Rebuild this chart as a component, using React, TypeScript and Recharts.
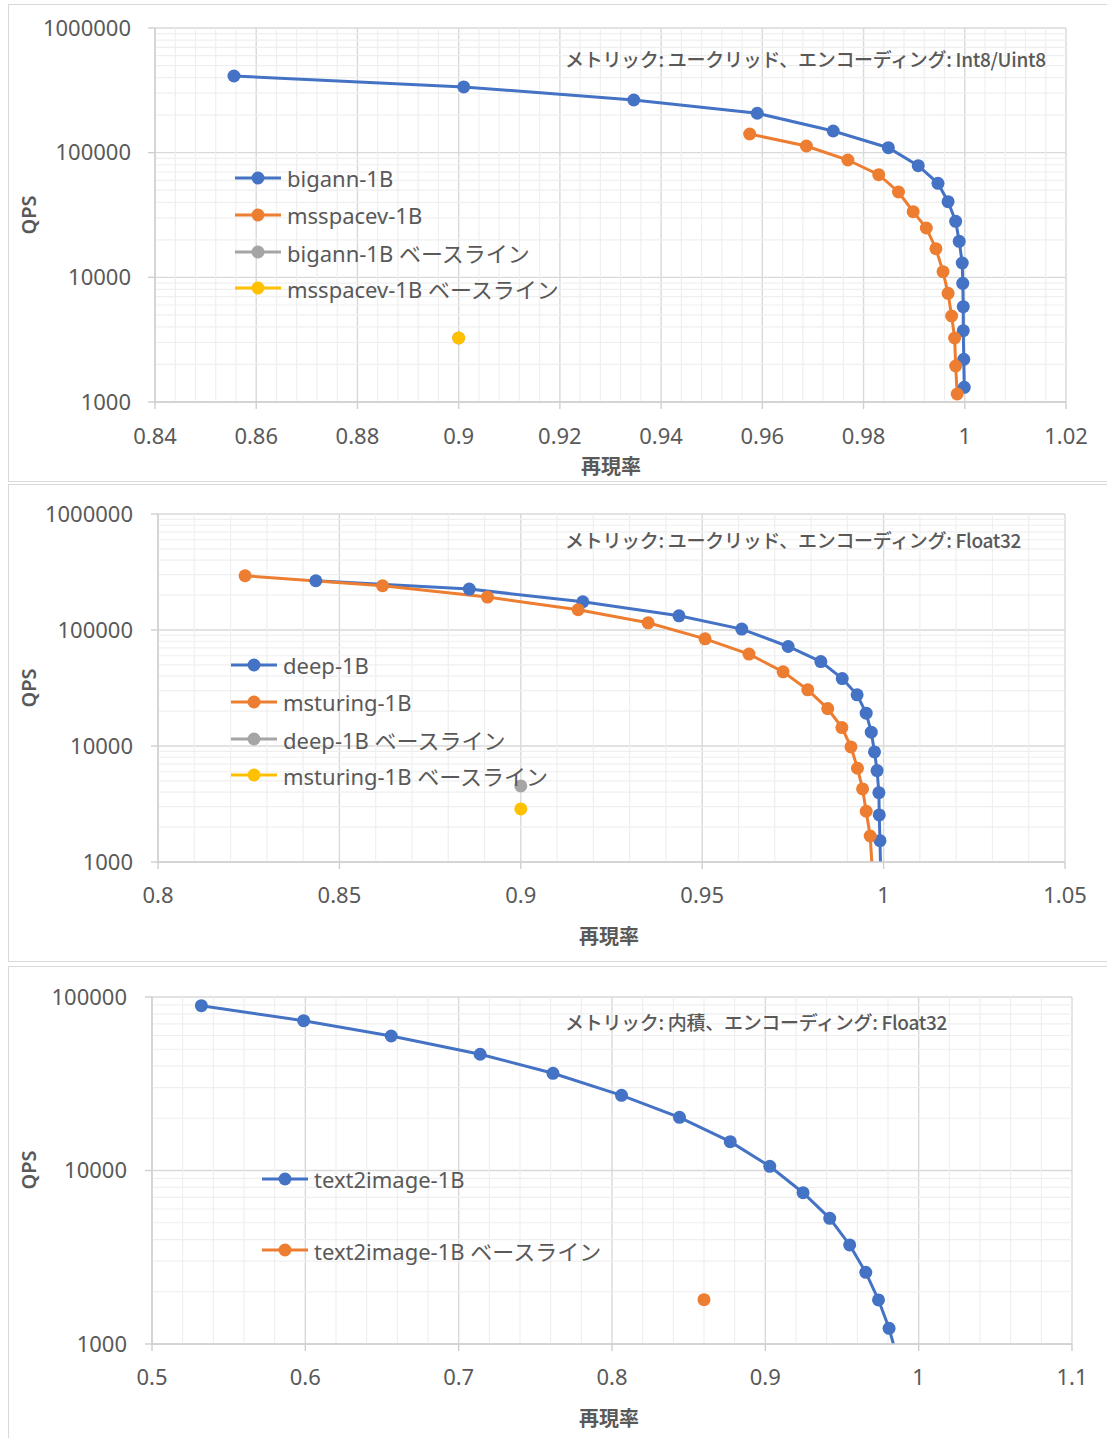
import { ComposedChart, Line, XAxis, YAxis, CartesianGrid, ReferenceLine, Legend } from 'recharts'

const BLUE = '#4472C4'
const ORANGE = '#ED7D31'
const GRAY = '#A5A5A5'
const YELLOW = '#FFC000'
const TEXT = '#595959'
const FONT = "'Noto Sans', 'Noto Sans CJK JP', sans-serif"
const JP_FONT = "'Noto Sans CJK JP', 'Noto Sans', sans-serif"

// ---- chart 1: bigann / msspacev ----
const bigannRecall = [0.8556, 0.901, 0.9346, 0.959, 0.974, 0.9849, 0.9908, 0.9947, 0.9967, 0.9982, 0.9989, 0.9995, 0.9996, 0.9997, 0.9997, 0.9998, 0.9999]
const bigannQps = [412000, 336500, 264500, 207000, 149200, 109600, 78650, 56800, 40440, 28140, 19450, 13030, 8960, 5815, 3733, 2200, 1312]
const msspacevRecall = [0.9575, 0.9687, 0.9769, 0.983, 0.9869, 0.9898, 0.9924, 0.9943, 0.9957, 0.9967, 0.9974, 0.998, 0.9982, 0.9985]
const msspacevQps = [141200, 113100, 87300, 66580, 48370, 33610, 24880, 16970, 11100, 7447, 4898, 3262, 1944, 1159]
const bigannBaseRecall = [0.9]
const bigannBaseQps = [3260]
const msspacevBaseRecall = [0.9]
const msspacevBaseQps = [3260]
const recallTicks1 = [0.84, 0.86, 0.88, 0.9, 0.92, 0.94, 0.96, 0.98, 1, 1.02]
const qpsTicks1 = [1000, 10000, 100000, 1000000]

// ---- chart 2: deep / msturing ----
const deepRecall = [0.8435, 0.8858, 0.9171, 0.9436, 0.9609, 0.9737, 0.9827, 0.9886, 0.9927, 0.9952, 0.9966, 0.9975, 0.9982, 0.9987, 0.9988, 0.999, 0.9993]
const deepQps = [265800, 225400, 175100, 132600, 101800, 72060, 53460, 38150, 27600, 19190, 13150, 8890, 6135, 3963, 2544, 1527, 600]
const msturingRecall = [0.824, 0.8619, 0.8908, 0.9158, 0.9351, 0.9508, 0.9629, 0.9723, 0.9791, 0.9846, 0.9885, 0.991, 0.9928, 0.9942, 0.9952, 0.9963, 0.9972]
const msturingQps = [293500, 240600, 192300, 149400, 115400, 83950, 61950, 43580, 30480, 21030, 14420, 9820, 6433, 4265, 2737, 1676, 600]
const deepBaseRecall = [0.9]
const deepBaseQps = [4528]
const msturingBaseRecall = [0.9]
const msturingBaseQps = [2866]
const recallTicks2 = [0.8, 0.85, 0.9, 0.95, 1, 1.05]
const qpsTicks2 = [1000, 10000, 100000, 1000000]

// ---- chart 3: text2image ----
const text2imageRecall = [0.5322, 0.5989, 0.656, 0.714, 0.7615, 0.8062, 0.844, 0.8771, 0.9029, 0.9246, 0.942, 0.955, 0.9655, 0.9738, 0.9807, 0.9857]
const text2imageQps = [89100, 73030, 59590, 46770, 36330, 27130, 20260, 14660, 10570, 7447, 5303, 3722, 2589, 1794, 1232, 850]
const text2imageBaseRecall = [0.86]
const text2imageBaseQps = [1800]
const recallTicks3 = [0.5, 0.6, 0.7, 0.8, 0.9, 1, 1.1]
const qpsTicks3 = [1000, 10000, 100000]

const pts = (xs: number[], ys: number[]) => xs.map((x, i) => ({ x, y: ys[i] }))

function minorX(ticks: number[], parts: number) {
  const out: number[] = []
  for (let i = 0; i < ticks.length - 1; i++) {
    const step = (ticks[i + 1] - ticks[i]) / parts
    for (let k = 1; k < parts; k++) out.push(+(ticks[i] + step * k).toFixed(4))
  }
  return out
}

function minorLog(ticks: number[]) {
  const out: number[] = []
  for (let i = 0; i < ticks.length - 1; i++) {
    for (let k = 2; k < 10; k++) out.push(ticks[i] * k)
  }
  return out
}

interface Series {
  name: string
  color: string
  data: { x: number; y: number }[]
}

interface ChartProps {
  top: number
  height: number
  margin: { top: number; right: number; bottom: number; left: number }
  yAxisWidth: number
  xTicks: number[]
  yTicks: number[]
  minorParts: number
  series: Series[]
  title: string
  titleY: number
  qpsY: number
  recallPos: [number, number]
  legendPos: [number, number]
  legendRowH: number
  yTickMargin: number
  xTickMargin: number
}

// legend rows keep the series order (recharts sorts its payload by name)
function LegendBox({ series, rowH }: { series: Series[]; rowH: number }) {
  return (
    <div>
      {series.map((s) => (
        <div key={s.name} style={{ display: 'flex', alignItems: 'center', height: rowH }}>
          <svg width={46} height={14} style={{ flex: 'none' }}>
            <line x1={0} y1={7} x2={46} y2={7} stroke={s.color} strokeWidth={3} />
            <circle cx={23} cy={7} r={6.5} fill={s.color} />
          </svg>
          <span style={{ marginLeft: 6, font: `22px ${FONT}`, color: TEXT, whiteSpace: 'nowrap' }}>{s.name}</span>
        </div>
      ))}
    </div>
  )
}

function RecallChart(p: ChartProps) {
  const xDomain = [p.xTicks[0], p.xTicks[p.xTicks.length - 1]]
  const yDomain = [p.yTicks[0], p.yTicks[p.yTicks.length - 1]]
  const tick = { fill: TEXT, fontSize: 22, fontFamily: FONT }
  return (
    <div style={{ position: 'absolute', left: 0, top: p.top, width: 1107, height: p.height }}>
      <ComposedChart width={1107} height={p.height} margin={p.margin}>
        {minorX(p.xTicks, p.minorParts).map((v) => (
          <ReferenceLine key={'mx' + v} x={v} stroke="#efefef" strokeWidth={1.2} />
        ))}
        {minorLog(p.yTicks).map((v) => (
          <ReferenceLine key={'my' + v} y={v} stroke="#efefef" strokeWidth={1.2} />
        ))}
        <CartesianGrid stroke="#d9d9d9" strokeWidth={1.4} />
        <XAxis
          type="number"
          dataKey="x"
          domain={xDomain}
          ticks={p.xTicks}
          interval={0}
          tick={tick}
          tickSize={7}
          tickMargin={p.xTickMargin}
          tickFormatter={(v: number) => String(parseFloat(v.toFixed(2)))}
          axisLine={{ stroke: '#cfcfcf', strokeWidth: 1.4 }}
          tickLine={{ stroke: '#cfcfcf', strokeWidth: 1.4 }}
          height={50}
        />
        <YAxis
          type="number"
          scale="log"
          domain={yDomain}
          ticks={p.yTicks}
          interval={0}
          allowDataOverflow
          tick={tick}
          tickSize={7}
          tickMargin={p.yTickMargin}
          tickFormatter={(v: number) => String(v)}
          axisLine={{ stroke: '#cfcfcf', strokeWidth: 1.4 }}
          tickLine={{ stroke: '#cfcfcf', strokeWidth: 1.4 }}
          width={p.yAxisWidth}
        />
        <Legend
          layout="vertical"
          align="center"
          verticalAlign="middle"
          wrapperStyle={{ top: p.legendPos[1], left: p.legendPos[0], width: 420, height: 'auto' }}
          content={() => <LegendBox series={p.series} rowH={p.legendRowH} />}
        />
        {p.series.map((s) => (
          <Line
            key={s.name}
            data={s.data}
            dataKey="y"
            name={s.name}
            stroke={s.color}
            strokeWidth={3}
            dot={{ r: 6.5, fill: s.color, stroke: s.color, strokeWidth: 0 }}
            activeDot={false}
            isAnimationActive={false}
          />
        ))}
      </ComposedChart>
      <div style={{ position: 'absolute', left: 565, top: p.titleY, transform: 'translateY(-50%)', font: `500 19px ${JP_FONT}`, color: TEXT, whiteSpace: 'nowrap', letterSpacing: -0.3 }}>
        {p.title}
      </div>
      <div style={{ position: 'absolute', left: 28, top: p.qpsY, transform: 'translate(-50%,-50%) rotate(-90deg)', font: `600 20px ${FONT}`, color: TEXT }}>
        QPS
      </div>
      <div style={{ position: 'absolute', left: p.recallPos[0], top: p.recallPos[1], transform: 'translate(-50%,-50%)', font: `700 20px ${JP_FONT}`, color: TEXT, whiteSpace: 'nowrap' }}>
        再現率
      </div>
    </div>
  )
}

const panel = (top: number, height: number) => ({
  position: 'absolute' as const,
  left: 8,
  top,
  width: 1110,
  height,
  border: '1.5px solid #d9d9d9',
  boxSizing: 'border-box' as const,
  background: '#fff',
})

export default function App() {
  return (
    <div style={{ position: 'relative', width: 1107, height: 1438, background: '#fff', overflow: 'hidden' }}>
      <style>{'body{margin:0;overflow:hidden}'}</style>
      <div style={panel(4, 478)} />
      <div style={panel(484, 478)} />
      <div style={panel(966, 490)} />

      <RecallChart
        top={0}
        height={480}
        margin={{ top: 28, right: 41, bottom: 28, left: 0 }}
        yAxisWidth={155}
        xTicks={recallTicks1}
        yTicks={qpsTicks1}
        minorParts={5}
        series={[
          { name: 'bigann-1B', color: BLUE, data: pts(bigannRecall, bigannQps) },
          { name: 'msspacev-1B', color: ORANGE, data: pts(msspacevRecall, msspacevQps) },
          { name: 'bigann-1B ベースライン', color: GRAY, data: pts(bigannBaseRecall, bigannBaseQps) },
          { name: 'msspacev-1B ベースライン', color: YELLOW, data: pts(msspacevBaseRecall, msspacevBaseQps) },
        ]}
        title="メトリック: ユークリッド、エンコーディング: Int8/Uint8"
        titleY={58}
        qpsY={215}
        recallPos={[611, 465]}
        legendPos={[235, 160]}
        legendRowH={36.7}
        yTickMargin={17}
        xTickMargin={19}
      />

      <RecallChart
        top={485}
        height={476}
        margin={{ top: 29, right: 42, bottom: 49, left: 0 }}
        yAxisWidth={158}
        xTicks={recallTicks2}
        yTicks={qpsTicks2}
        minorParts={5}
        series={[
          { name: 'deep-1B', color: BLUE, data: pts(deepRecall, deepQps) },
          { name: 'msturing-1B', color: ORANGE, data: pts(msturingRecall, msturingQps) },
          { name: 'deep-1B ベースライン', color: GRAY, data: pts(deepBaseRecall, deepBaseQps) },
          { name: 'msturing-1B ベースライン', color: YELLOW, data: pts(msturingBaseRecall, msturingBaseQps) },
        ]}
        title="メトリック: ユークリッド、エンコーディング: Float32"
        titleY={54}
        qpsY={203}
        recallPos={[609, 450]}
        legendPos={[231, 162]}
        legendRowH={36.7}
        yTickMargin={18}
        xTickMargin={18}
      />

      <RecallChart
        top={966}
        height={472}
        margin={{ top: 31, right: 35, bottom: 44, left: 0 }}
        yAxisWidth={152}
        xTicks={recallTicks3}
        yTicks={qpsTicks3}
        minorParts={5}
        series={[
          { name: 'text2image-1B', color: BLUE, data: pts(text2imageRecall, text2imageQps) },
          { name: 'text2image-1B ベースライン', color: ORANGE, data: pts(text2imageBaseRecall, text2imageBaseQps) },
        ]}
        title="メトリック: 内積、エンコーディング: Float32"
        titleY={55}
        qpsY={204}
        recallPos={[609, 451]}
        legendPos={[262, 177.5]}
        legendRowH={71}
        yTickMargin={18}
        xTickMargin={18}
      />
    </div>
  )
}
